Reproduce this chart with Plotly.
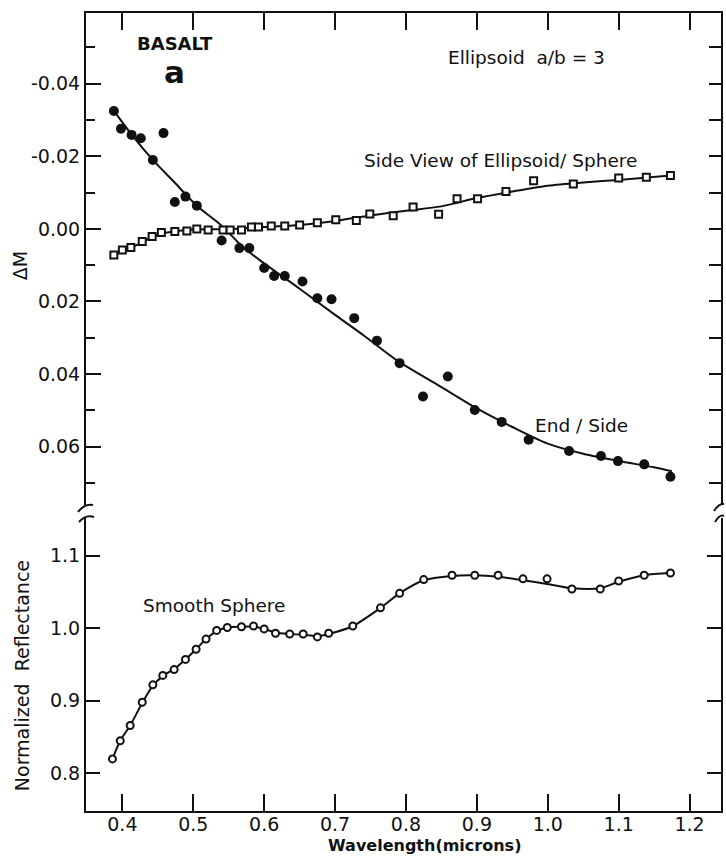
import plotly.graph_objects as go

# ---------------- data ----------------
# End / Side  (filled circles)
end_x = [0.388, 0.398, 0.413, 0.426, 0.443, 0.458, 0.474, 0.489, 0.505, 0.540, 0.565, 0.579,
         0.600, 0.614, 0.629, 0.654, 0.675, 0.695, 0.727, 0.759, 0.791, 0.824, 0.859, 0.897,
         0.935, 0.973, 1.030, 1.075, 1.099, 1.136, 1.173]
end_y = [-0.0325, -0.0276, -0.0259, -0.0250, -0.0190, -0.0264, -0.0074, -0.0089, -0.0064, 0.0032, 0.0053, 0.0053,
         0.0108, 0.0130, 0.0130, 0.0145, 0.0191, 0.0194, 0.0246, 0.0308, 0.0370, 0.0462, 0.0407, 0.0499,
         0.0532, 0.0581, 0.0612, 0.0626, 0.0640, 0.0649, 0.0683]
end_fit_x = [0.388, 0.415, 0.443, 0.475, 0.505, 0.540, 0.570, 0.600, 0.650, 0.700, 0.740, 0.790,
             0.850, 0.900, 0.950, 1.000, 1.050, 1.100, 1.150, 1.175]
end_fit_y = [-0.0325, -0.0255, -0.0190, -0.0125, -0.0064, -0.0009, 0.0050, 0.0095, 0.0165, 0.0237, 0.0293, 0.0366,
             0.0436, 0.0495, 0.0546, 0.0592, 0.0620, 0.0640, 0.0657, 0.0668]

# Side view of ellipsoid / sphere (open squares)
side_x = [0.388, 0.400, 0.412, 0.428, 0.442, 0.455, 0.474, 0.491, 0.505, 0.521, 0.542, 0.552,
          0.568, 0.582, 0.592, 0.610, 0.629, 0.650, 0.675, 0.701, 0.730, 0.749, 0.782, 0.810,
          0.846, 0.872, 0.901, 0.941, 0.980, 1.036, 1.100, 1.139, 1.173]
side_y = [0.0072, 0.0058, 0.0051, 0.0035, 0.0021, 0.0010, 0.0007, 0.0006, 0.0000, 0.0003, 0.0003, 0.0003,
          0.0003, -0.0005, -0.0005, -0.0008, -0.0008, -0.0011, -0.0017, -0.0025, -0.0023, -0.0041, -0.0036, -0.0060,
          -0.0040, -0.0083, -0.0083, -0.0103, -0.0133, -0.0124, -0.0140, -0.0142, -0.0147]
side_fit_x = [0.388, 0.42, 0.45, 0.50, 0.55, 0.60, 0.65, 0.70, 0.75, 0.80, 0.85, 0.90, 0.95, 1.00, 1.05, 1.10, 1.173]
side_fit_y = [0.0072, 0.0045, 0.0016, 0.0002, 0.0001, -0.0005, -0.0011, -0.0022, -0.0037, -0.0050, -0.0062,
              -0.0085, -0.0103, -0.0119, -0.0128, -0.0135, -0.0147]

# Smooth sphere (open circles), normalized reflectance
sph_x = [0.386, 0.397, 0.411, 0.428, 0.443, 0.457, 0.473, 0.489, 0.504, 0.518, 0.533, 0.548,
         0.568, 0.585, 0.600, 0.616, 0.636, 0.655, 0.675, 0.691, 0.725, 0.764, 0.791, 0.825,
         0.865, 0.897, 0.930, 0.965, 0.999, 1.034, 1.074, 1.100, 1.136, 1.173]
sph_y = [0.820, 0.845, 0.866, 0.898, 0.922, 0.935, 0.943, 0.957, 0.971, 0.985, 0.997, 1.001,
         1.002, 1.003, 0.999, 0.993, 0.992, 0.992, 0.988, 0.993, 1.003, 1.028, 1.048, 1.067,
         1.073, 1.073, 1.073, 1.068, 1.068, 1.054, 1.054, 1.065, 1.073, 1.076]
sph_fit_x = [0.386, 0.397, 0.411, 0.428, 0.443, 0.457, 0.473, 0.489, 0.504, 0.518, 0.533, 0.548,
             0.568, 0.585, 0.600, 0.616, 0.636, 0.655, 0.675, 0.691, 0.725, 0.764, 0.791, 0.825,
             0.865, 0.897, 0.930, 0.965, 0.999, 1.034, 1.074, 1.100, 1.136, 1.173]
sph_fit_y = [0.820, 0.845, 0.866, 0.897, 0.921, 0.934, 0.944, 0.957, 0.971, 0.985, 0.996, 1.001,
             1.002, 1.002, 0.999, 0.994, 0.992, 0.991, 0.989, 0.992, 1.003, 1.028, 1.048, 1.066,
             1.072, 1.073, 1.071, 1.066, 1.061, 1.055, 1.055, 1.064, 1.073, 1.076]

# axes / ticks
x_ticks = [0.4, 0.5, 0.6, 0.7, 0.8, 0.9, 1.0, 1.1, 1.2]
x_ticktext = ["0.4", "0.5", "0.6", "0.7", "0.8", "0.9", "1.0", "1.1", "1.2"]
dm_ticks = [-0.04, -0.02, 0.0, 0.02, 0.04, 0.06]
dm_ticktext = ["-0.04", "-0.02", "0.00", "0.02", "0.04", "0.06"]
dm_minor = [-0.05, -0.03, -0.01, 0.01, 0.03, 0.05, 0.07]
dm_right = [-0.05, -0.04, -0.03, -0.02, -0.01, 0.0, 0.01, 0.02, 0.03, 0.04, 0.05, 0.06, 0.07]
refl_ticks = [0.8, 0.9, 1.0, 1.1]
refl_ticktext = ["0.8", "0.9", "1.0", "1.1"]

# ---------------- layout geometry ----------------
W, H = 726, 857
ML, MR, MT, MB = 86, 3, 13, 46
PW, PH = W - ML - MR, H - MT - MB
TOP_BOTTOM_PX = 505
BOT_TOP_PX = 518


def px(xp, yp):
    return (xp - ML) / PW, (H - MB - yp) / PH


FONT = "DejaVu Sans"
INK = "#111111"
TICKFONT = dict(family=FONT, size=19, color=INK)
x_range = [0.3487, 1.2443]
dm_range = [0.0761, -0.0595]
refl_range = [0.7482, 1.1518]

fig = go.Figure()

line_style = dict(color=INK, width=2)

# top panel
fig.add_trace(go.Scatter(x=end_fit_x, y=end_fit_y, mode="lines", line=dict(shape="spline", smoothing=0.8, **line_style),
                         xaxis="x2", yaxis="y2", hoverinfo="skip"))
fig.add_trace(go.Scatter(x=side_fit_x, y=side_fit_y, mode="lines", line=dict(shape="spline", smoothing=0.8, **line_style),
                         xaxis="x2", yaxis="y2", hoverinfo="skip"))
fig.add_trace(go.Scatter(x=end_x, y=end_y, mode="markers",
                         marker=dict(symbol="circle", size=10, color=INK, line=dict(width=0)),
                         xaxis="x2", yaxis="y2", name="End / Side"))
fig.add_trace(go.Scatter(x=side_x, y=side_y, mode="markers",
                         marker=dict(symbol="square", size=7, color="white", line=dict(width=2, color=INK)),
                         xaxis="x2", yaxis="y2", name="Side View"))
# invisible trace to keep the right-side tick axis alive
fig.add_trace(go.Scatter(x=[0.8], y=[0.0], mode="markers", marker=dict(opacity=0),
                         xaxis="x2", yaxis="y3", hoverinfo="skip"))

# bottom panel
fig.add_trace(go.Scatter(x=sph_fit_x, y=sph_fit_y, mode="lines", line=dict(shape="spline", smoothing=0.8, **line_style),
                         xaxis="x", yaxis="y", hoverinfo="skip"))
fig.add_trace(go.Scatter(x=sph_x, y=sph_y, mode="markers",
                         marker=dict(symbol="circle", size=7, color="white", line=dict(width=2, color=INK)),
                         xaxis="x", yaxis="y", name="Smooth Sphere"))

top_dom = [px(0, TOP_BOTTOM_PX)[1], 1.0]
bot_dom = [0.0, px(0, BOT_TOP_PX)[1]]

axis_common = dict(showgrid=False, zeroline=False, showline=True, linecolor=INK, linewidth=2,
                   tickcolor=INK, tickwidth=2, ticks="inside", tickfont=TICKFONT)

fig.update_layout(
    width=W, height=H,
    margin=dict(l=ML, r=MR, t=MT, b=MB),
    paper_bgcolor="white", plot_bgcolor="white",
    showlegend=False,
    font=dict(family=FONT, size=17, color=INK),
    xaxis=dict(domain=[0, 1], anchor="y", range=x_range, tickmode="array", tickvals=x_ticks,
               ticktext=x_ticktext, ticklen=17, mirror=False, ticklabelstandoff=-5, **axis_common),
    yaxis=dict(domain=bot_dom, anchor="x", range=refl_range, tickmode="array", tickvals=refl_ticks,
               ticktext=refl_ticktext, ticklen=14, mirror="ticks", **axis_common),
    xaxis2=dict(domain=[0, 1], anchor="y2", side="top", range=x_range, tickmode="array",
                tickvals=x_ticks, showticklabels=False, ticklen=17, mirror=False, **axis_common),
    yaxis2=dict(domain=top_dom, anchor="x2", range=dm_range, tickmode="array", tickvals=dm_ticks,
                ticktext=dm_ticktext, ticklen=15, mirror=False,
                minor=dict(tickmode="array", tickvals=dm_minor, ticklen=9, tickwidth=2, tickcolor=INK,
                           ticks="inside", showgrid=False),
                **axis_common),
    yaxis3=dict(overlaying="y2", anchor="x2", side="right", range=dm_range, tickmode="array",
                tickvals=dm_right, showticklabels=False, ticklen=12, mirror=False, **axis_common),
)

annots = []


def add_text(text, xpx, ypx, size=17, bold=False, angle=0):
    xp, yp = px(xpx, ypx)
    t = f"<b>{text}</b>" if bold else text
    annots.append(dict(text=t, x=xp, y=yp, xref="paper", yref="paper", showarrow=False,
                       xanchor="center", yanchor="middle", textangle=angle,
                       font=dict(family=FONT, size=size, color=INK)))


add_text("BASALT", 175, 43, size=18, bold=True)
add_text("a", 175, 72, size=31, bold=True)
add_text("Ellipsoid  a/b = 3", 528, 58, size=18.5)
add_text("Side View of Ellipsoid/ Sphere", 502, 160, size=18.5)
add_text("End / Side", 583, 425, size=18.5)
add_text("Smooth Sphere", 214, 605, size=18.5)
add_text("ΔM", 20, 266, size=19, angle=-90)
add_text("Normalized  Reflectance", 22, 676, size=19, angle=-90)
add_text("Wavelength(microns)", 426, 846, size=16, bold=True)
fig.update_layout(annotations=annots)

# axis-break squiggles
shapes = []


def squiggle(p0, c, p1):
    a = px(*p0)
    b = px(*c)
    d = px(*p1)
    shapes.append(dict(type="path", xref="paper", yref="paper",
                       path=f"M {a[0]},{a[1]} Q {b[0]},{b[1]} {d[0]},{d[1]}",
                       line=dict(color=INK, width=2)))


squiggle((78, 512), (85, 503), (93, 505))
squiggle((79, 522), (86, 514), (94, 517))
squiggle((716, 511), (721, 503), (726, 504))
squiggle((717, 522), (722, 514), (726, 516))
fig.update_layout(shapes=shapes)

fig.write_html("out.html")
